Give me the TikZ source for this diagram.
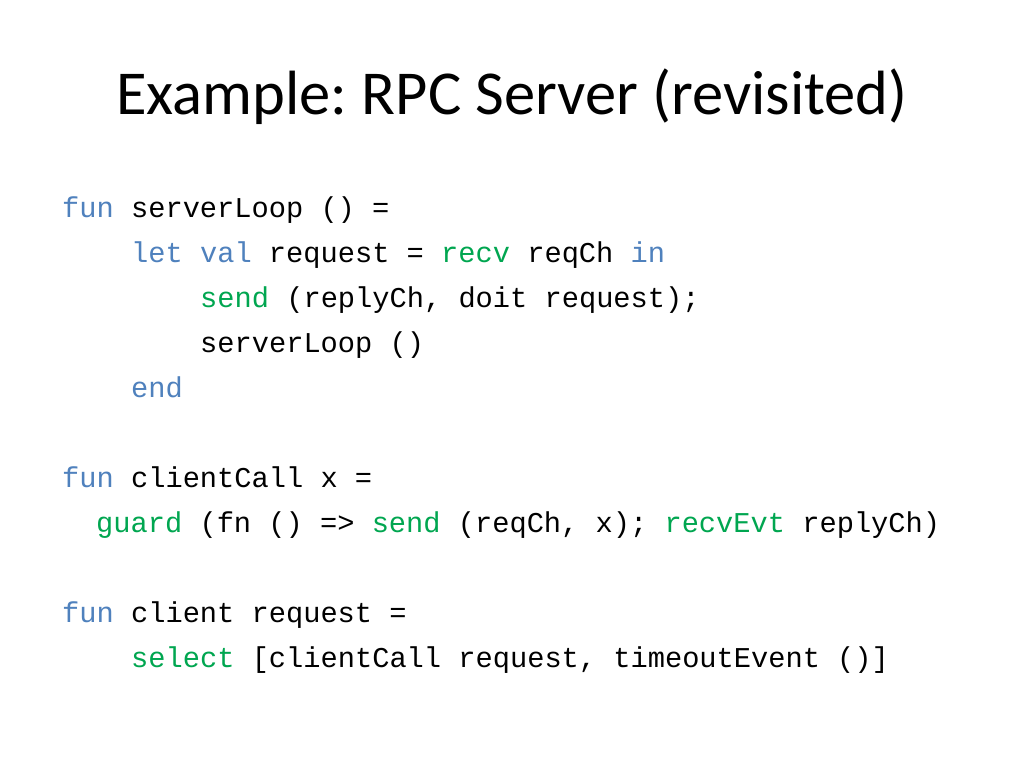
\documentclass[tikz,border=0pt]{standalone}
\usepackage{fontspec}
\setmainfont{Carlito}
\setmonofont{Liberation Mono}
\usetikzlibrary{positioning}
\tikzset{x=1pt,y=-1pt}

\begin{document}
\frenchspacing
\begin{tikzpicture}
% Style
[
    title text/.style={anchor=base, inner sep=0pt, font=\fontsize{62.5}{74}\selectfont},
    code line/.style={anchor=base west, inner sep=0pt, font=\ttfamily\fontsize{28.7}{34}\selectfont}
]

% Define: Colors
\definecolor{keyword_color}{RGB}{79,129,189}
\definecolor{prim_color}{RGB}{0,166,80}

% Define: Highlight
\def\kw#1{\textcolor{keyword_color}{#1}}
\def\pr#1{\textcolor{prim_color}{#1}}

% Define: Page
\useasboundingbox [fill=white] (0,0) rectangle (1024,768);

%=================================== Start ===================================
{
    % Draw: Title
    \node [title text] (title) at (512,114) {Example: RPC Server (revisited)};

    % Draw: serverLoop
    \node [code line] (server_1) at (62,217) {\kw{fun} serverLoop () =};
    \node [code line] (server_2) at (131,262) {\kw{let} \kw{val} request = \pr{recv} reqCh \kw{in}};
    \node [code line] (server_3) at (200,307) {\pr{send} (replyCh, doit request);};
    \node [code line] (server_4) at (200,352) {serverLoop ()};
    \node [code line] (server_5) at (131,397) {\kw{end}};

    % Draw: clientCall
    \node [code line] (call_1) at (62,487) {\kw{fun} clientCall x =};
    \node [code line] (call_2) at (96,532) {\pr{guard} (fn () => \pr{send} (reqCh, x); \pr{recvEvt} replyCh)};

    % Draw: client
    \node [code line] (client_1) at (62,622) {\kw{fun} client request =};
    \node [code line] (client_2) at (131,667) {\pr{select} [clientCall request, timeoutEvent ()]};
}
%==================================== END ====================================
\end{tikzpicture}
\end{document}
